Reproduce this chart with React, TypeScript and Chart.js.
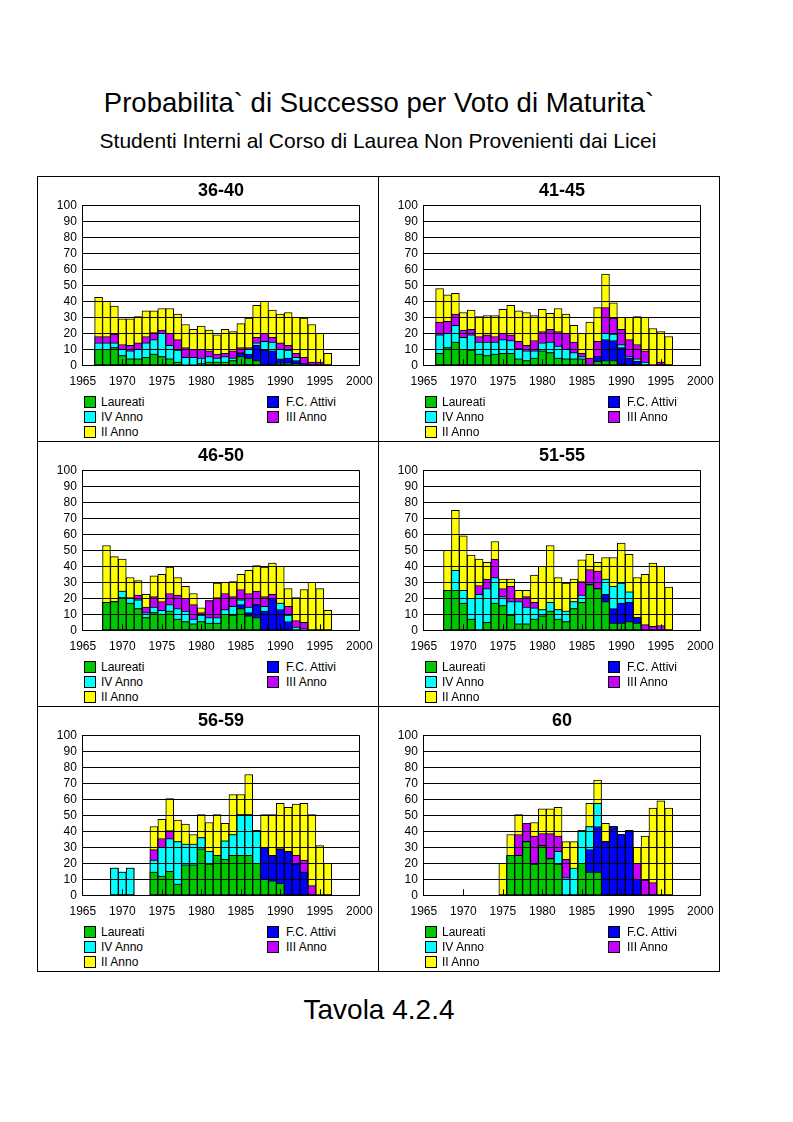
import React, { useEffect, useRef } from "react";
import { Chart, registerables } from "chart.js";

Chart.register(...registerables);

// ---------------- DATA ----------------
const YEARS = [
  1967, 1968, 1969, 1970, 1971, 1972, 1973, 1974, 1975, 1976,
  1977, 1978, 1979, 1980, 1981, 1982, 1983, 1984, 1985, 1986,
  1987, 1988, 1989, 1990, 1991, 1992, 1993, 1994, 1995, 1996,
];

const SERIES_NAMES = ["Laureati", "F.C. Attivi", "IV Anno", "III Anno", "II Anno"];
const SERIES_COLORS = ["#00C800", "#0000FF", "#00FFFF", "#C800FF", "#FFFF00"];

const PANEL_TITLES = ["36-40", "41-45", "46-50", "51-55", "56-59", "60"];

const MAIN_TITLE = "Probabilita` di Successo per Voto di Maturita`";
const SUB_TITLE = "Studenti Interni al Corso di Laurea Non Provenienti dai Licei";
const FOOTER = "Tavola 4.2.4";

// Cumulative top of each layer (percent), one value per year (null = no bar)
// Panel 36-40
const P1_LAUREATI = [10, 10, 11, 6, 4, 4, 5, 7, 5.5, 4, 2, 0.5, 0.5, 1, 2, 2, 2, 3, 5.5, 4.5, 3, 0, 0, 1.5, 1.5, 1, 0, 0, 0, 0];
const P1_FC = [10, 10, 11, 6, 4, 4, 5, 7, 5.5, 4, 2, 0.5, 0.5, 1, 2, 2, 2, 3, 7.5, 7, 12.5, 9.5, 9, 4, 4.5, 3, 1, 0, 0, 0];
const P1_IV = [14, 14, 14, 10, 9, 10, 14, 16, 20, 12.5, 9.5, 5, 5, 4.5, 5.5, 4.5, 5.5, 4.5, 8, 10, 14, 15, 14.5, 10, 9.5, 5, 1, 0, 0, 0];
const P1_III = [18, 18, 19.5, 13, 12.5, 14, 18, 20.5, 22, 20, 16, 11, 10, 10, 9, 7, 7.5, 9, 11, 11, 17.5, 20, 17.5, 14, 12.5, 7.5, 5, 2, 2, 0];
const P1_II = [42.5, 40, 37, 29, 29, 30.5, 34, 34, 35.5, 35.5, 32, 25.5, 22.5, 24.5, 22, 19, 22.5, 21, 26, 29.5, 37.5, 40, 34.5, 32, 33, 30, 29.5, 25.5, 20, 7.5];

// Panel 41-45
const P2_LAUREATI = [7.5, 11, 14.5, 10, 9.5, 7, 6, 7, 7.5, 7.5, 4, 3, 4.5, 9, 8, 4.5, 4, 4, 4, 0, 2.5, 3, 3, 0, 0, 0, 0, 0, 0, 0];
const P2_FC = [7.5, 11, 14.5, 10, 9.5, 7, 6, 7, 7.5, 7.5, 4, 3, 4.5, 9, 8, 4.5, 4, 4, 4, 0, 5.5, 16, 15.5, 11, 4.5, 2.5, 0, 0, 0, 0];
const P2_IV = [19, 20, 25, 17.5, 19, 14.5, 14.5, 14.5, 16, 15.5, 10.5, 9, 9, 14, 14.5, 12, 10, 8, 5.5, 0, 5.5, 20, 19.5, 13, 5.5, 4, 2, 0, 0, 0];
const P2_III = [27, 27.5, 32, 22, 22.5, 18, 19, 18, 20, 19, 15, 12.5, 15.5, 21, 22.5, 21, 20, 14.5, 7.5, 4.5, 15, 36, 29.5, 22.5, 16, 13, 9, 0.5, 2, 0];
const P2_II = [48, 44, 45, 33, 34.5, 30.5, 31, 31, 35, 37.5, 34, 33, 31, 35, 32.5, 35.5, 32, 25, 20, 27, 36, 57, 39, 30, 30, 30.5, 30, 23, 21, 18];

// Panel 46-50
const P3_LAUREATI = [null, 17.5, 18, 20.5, 17, 13.5, 8, 11, 10, 12, 7, 5.5, 4, 5.5, 4.5, 4.5, 10, 9.5, 13.5, 9, 8, 0, 0, 0, 0, 0, 0, 0, 0, 0];
const P3_FC = [null, 17.5, 18, 20.5, 17, 13.5, 8, 11, 10, 12, 7, 5.5, 4, 5.5, 4.5, 4.5, 10, 9.5, 16, 11, 16, 12, 20, 13, 5.5, 0, 0, 0, 0, 0];
const P3_IV = [null, 17.5, 18, 24.5, 20, 19, 11, 14.5, 12.5, 16, 13.5, 12, 7, 9.5, 8, 8, 13, 15, 19, 14.5, 16, 15, 20, 17, 9.5, 2, 1, 0, 0, 0];
const P3_III = [null, 17.5, 18, 24.5, 20.5, 22, 14.5, 21, 18, 23, 22, 20, 16, 11, 18.5, 20.5, 23, 21, 25.5, 23, 24.5, 21, 22.5, 17, 15, 6, 5, 0, 0, 0];
const P3_II = [null, 53, 46, 44.5, 33, 31, 22.5, 34, 35, 39.5, 33, 27.5, 23, 14, 18.5, 29.5, 30, 30.5, 35, 37.5, 40.5, 39.5, 42, 40, 26, 20.5, 25.5, 30, 26, 12.5];

// Panel 51-55
const P4_LAUREATI = [null, 25, 25, 17, 7, 0, 5, 17, 15.5, 9.5, 4, 4, 7, 9, 12, 7, 5.5, 13.5, 17.5, 28.5, 26, 18, 4.5, 4.5, 5.5, 4.5, 0, 0, 0, 0];
const P4_FC = [null, 25, 25, 17, 7, 0, 5, 17, 15.5, 9.5, 4, 4, 7, 9, 12, 7, 5.5, 13.5, 17.5, 28.5, 26, 22.5, 13.5, 17, 17.5, 8, 0, 0, 0, 0];
const P4_IV = [null, 25, 37.5, 25, 20, 22.5, 26, 33, 21, 18, 18, 14.5, 14, 13, 17.5, 13, 12, 18, 22, 28.5, 26, 32, 27.5, 29.5, 24, 8, 0, 0, 0, 0];
const P4_III = [null, 25, 37.5, 25, 20, 28, 32, 44.5, 26, 27.5, 20, 21, 17.5, 13, 17.5, 13, 12, 18, 30.5, 38, 37, 32, 27.5, 29.5, 24, 8, 3.5, 2.5, 3, 0];
const P4_II = [null, 50, 75, 59, 47, 44.5, 42.5, 55.5, 32, 32, 25, 25, 34.5, 40, 53, 33, 29.5, 32, 44, 47.5, 42.5, 45.5, 45.5, 54.5, 47.5, 33, 35, 42, 40, 27];

// Panel 56-59
const P5_LAUREATI = [null, null, 0, 0, 0, null, null, 14.5, 12, 15, 7, 19, 19, 29, 19.5, 25, 22.5, 25, 25, 25, 20, 10, 9, 7.5, 0, 0, 0, 0, 0, 0];
const P5_FC = [null, null, 0, 0, 0, null, null, 14.5, 12, 15, 7, 19, 19, 29, 19.5, 25, 22.5, 25, 25, 25, 20, 30, 25, 29, 27.5, 19.5, 14.5, 0, 0, 0];
const P5_IV = [null, null, 17, 14.5, 17, null, null, 22, 30, 35.5, 33.5, 32, 32, 36, 27.5, 25, 34, 38, 50.5, 50.5, 40.5, 30, 25, 29, 27.5, 19.5, 14.5, 0, 0, 0];
const P5_III = [null, null, 17, 14.5, 17, null, null, 28.5, 35.5, 40.5, 33.5, 32, 32, 36, 27.5, 25, 34, 38, 50.5, 50.5, 40.5, 30, 25, 29, 27.5, 25, 22, 6, 0, 0];
const P5_II = [null, null, 17, 14.5, 17, null, null, 43, 47.5, 60.5, 47, 44.5, 38, 50.5, 45.5, 50.5, 45, 63, 63, 75.5, 40.5, 50.5, 50.5, 57.5, 55, 57, 57.5, 50.5, 31, 20];

// Panel 60
const P6_LAUREATI = [null, null, null, null, null, null, null, null, 0, 25, 25, 33.5, 19.5, 31, 23, 19.5, 0, 0, 20, 14.5, 14.5, 0, 0, 0, 0, 0, 0, 0, 0, 0];
const P6_FC = [null, null, null, null, null, null, null, null, 0, 25, 25, 33.5, 19.5, 31, 23, 19.5, 0, 0, 20, 28.5, 43, 33.5, 43, 38, 40.5, 10, 0, 0, 0, 0];
const P6_IV = [null, null, null, null, null, null, null, null, 0, 25, 25, 33.5, 19.5, 31, 23, 27.5, 11, 17, 40.5, 43, 57.5, 33.5, 43, 38, 40.5, 10, 0, 0, 0, 0];
const P6_III = [null, null, null, null, null, null, null, null, 0, 25, 38, 45, 37, 38.5, 38.5, 37, 22.5, 17, 40.5, 43, 57.5, 33.5, 43, 38, 40.5, 20, 9.5, 8, 0, 0];
const P6_II = [null, null, null, null, null, null, null, null, 20, 38, 50.5, 45, 45.5, 54, 54, 55, 33.5, 33.5, 40.5, 57.5, 72, 45, 43, 38, 40.5, 30, 37, 54.5, 59, 54.5];

const PANELS = [
  [P1_LAUREATI, P1_FC, P1_IV, P1_III, P1_II],
  [P2_LAUREATI, P2_FC, P2_IV, P2_III, P2_II],
  [P3_LAUREATI, P3_FC, P3_IV, P3_III, P3_II],
  [P4_LAUREATI, P4_FC, P4_IV, P4_III, P4_II],
  [P5_LAUREATI, P5_FC, P5_IV, P5_III, P5_II],
  [P6_LAUREATI, P6_FC, P6_IV, P6_III, P6_II],
];

// ---------------- LAYOUT ----------------
const FONT = '"Liberation Sans", Arial, Helvetica, sans-serif';
const BOX_L = 37;
const BOX_T = 176;
const CELL_W = 341;
const CELL_H = 265;
const CANVAS_H = 215;
const PLOT_L = 45.8;
const PLOT_R = 322.3;
const PLOT_T = 29.3;
const PLOT_B = 189.3;

const innerTicks = {
  id: "innerTicks",
  afterDraw(chart: any) {
    const { ctx, chartArea, scales } = chart;
    const xs = scales.x;
    ctx.save();
    ctx.strokeStyle = "#000";
    ctx.lineWidth = 1;
    xs.ticks.forEach((t: any) => {
      if (t.value <= xs.min || t.value >= xs.max) return;
      const x = Math.round(xs.getPixelForValue(t.value)) + 0.5;
      ctx.beginPath();
      ctx.moveTo(x, chartArea.bottom);
      ctx.lineTo(x, chartArea.bottom - 6);
      ctx.stroke();
    });
    ctx.restore();
  },
};

function PanelChart({ series }: { series: (number | null)[][] }) {
  const ref = useRef<HTMLCanvasElement | null>(null);
  useEffect(() => {
    if (!ref.current) return;
    const datasets = series.map((vals, i) => ({
      label: SERIES_NAMES[i],
      data: YEARS.map((yr, k) => ({ x: yr, y: vals[k] })).filter(
        (p) => p.y !== null && (p.y as number) > 0
      ),
      backgroundColor: SERIES_COLORS[i],
      borderColor: "#000",
      borderWidth: 1,
      borderSkipped: false,
      grouped: false,
      barPercentage: 1,
      categoryPercentage: 1,
    }));
    const tickFont = { family: FONT, size: 12 };
    const chart = new Chart(ref.current, {
      type: "bar",
      data: { datasets: datasets as any },
      plugins: [innerTicks],
      options: {
        responsive: false,
        animation: false,
        layout: {
          padding: { left: 0, right: CELL_W - PLOT_R, top: PLOT_T, bottom: 0 },
        },
        plugins: {
          legend: { display: false },
          tooltip: { enabled: false },
          title: { display: false },
        },
        scales: {
          x: {
            type: "linear",
            min: 1965,
            max: 2000,
            offset: false,
            ticks: {
              stepSize: 5,
              autoSkip: false,
              maxRotation: 0,
              color: "#000",
              font: tickFont,
              padding: 9,
              callback: (v: any) => String(v),
            },
            grid: {
              offset: false,
              drawTicks: false,
              color: (c: any) =>
                c.tick && c.tick.value === 2000 ? "#000" : "rgba(0,0,0,0)",
            },
            border: { color: "#000", width: 1, z: 1 },
            afterFit: (axis: any) => {
              axis.height = CANVAS_H - PLOT_B;
              axis.paddingLeft = 0;
              axis.paddingRight = 0;
            },
          },
          y: {
            min: 0,
            max: 100,
            ticks: {
              stepSize: 10,
              autoSkip: false,
              color: "#000",
              font: tickFont,
              padding: 6,
            },
            grid: { color: "#000", drawTicks: false, z: 1 },
            border: { color: "#000", width: 1, z: 1 },
            afterFit: (axis: any) => {
              axis.width = PLOT_L;
              axis.paddingTop = 0;
              axis.paddingBottom = 0;
            },
          },
        },
      } as any,
    });
    return () => chart.destroy();
  }, [series]);
  return (
    <canvas
      ref={ref}
      width={CELL_W}
      height={CANVAS_H}
      style={{ width: CELL_W, height: CANVAS_H, display: "block" }}
    />
  );
}

const LEGEND_ROWS = [
  [0, 1],
  [2, 3],
  [4],
];

function Cell({ idx }: { idx: number }) {
  const col = idx % 2;
  const row = Math.floor(idx / 2);
  const left = BOX_L + col * CELL_W;
  const top = BOX_T + row * CELL_H;
  return (
    <div style={{ position: "absolute", left, top, width: CELL_W, height: CELL_H }}>
      <div style={{ position: "absolute", left: 0, top: 0 }}>
        <PanelChart series={PANELS[idx]} />
      </div>
      <div
        style={{
          position: "absolute",
          left: 0,
          width: 368,
          top: 4,
          textAlign: "center",
          fontWeight: "bold",
          fontSize: 18,
          lineHeight: "20px",
        }}
      >
        {PANEL_TITLES[idx]}
      </div>
      {LEGEND_ROWS.map((r, ri) =>
        r.map((si, ci) => (
          <React.Fragment key={`${ri}-${ci}`}>
            <div
              style={{
                position: "absolute",
                left: ci === 0 ? 47 : 230,
                top: 220 + ri * 15,
                width: 12,
                height: 12,
                boxSizing: "border-box",
                border: "1px solid #000",
                background: SERIES_COLORS[si],
              }}
            />
            <div
              style={{
                position: "absolute",
                left: ci === 0 ? 64 : 249,
                top: 219 + ri * 15,
                fontSize: 12,
                lineHeight: "14px",
                whiteSpace: "nowrap",
              }}
            >
              {SERIES_NAMES[si]}
            </div>
          </React.Fragment>
        ))
      )}
    </div>
  );
}

export default function App() {
  return (
    <div
      style={{
        position: "absolute",
        left: 0,
        top: 0,
        width: 793,
        height: 1122,
        background: "#fff",
        fontFamily: FONT,
        color: "#000",
      }}
    >
      <div
        style={{
          position: "absolute",
          left: 0,
          width: 758,
          top: 87,
          textAlign: "center",
          fontSize: 27.5,
          lineHeight: "32px",
          whiteSpace: "nowrap",
        }}
      >
        {MAIN_TITLE}
      </div>
      <div
        style={{
          position: "absolute",
          left: 0,
          width: 756,
          top: 129,
          textAlign: "center",
          fontSize: 21,
          lineHeight: "24px",
          whiteSpace: "nowrap",
        }}
      >
        {SUB_TITLE}
      </div>
      <div
        style={{
          position: "absolute",
          left: BOX_L,
          top: BOX_T,
          width: CELL_W * 2 + 1,
          height: CELL_H * 3 + 1,
          boxSizing: "border-box",
          border: "1px solid #000",
        }}
      />
      <div style={{ position: "absolute", left: BOX_L + CELL_W, top: BOX_T, width: 1, height: CELL_H * 3, background: "#000" }} />
      <div style={{ position: "absolute", left: BOX_L, top: BOX_T + CELL_H, width: CELL_W * 2, height: 1, background: "#000" }} />
      <div style={{ position: "absolute", left: BOX_L, top: BOX_T + CELL_H * 2, width: CELL_W * 2, height: 1, background: "#000" }} />
      {[0, 1, 2, 3, 4, 5].map((i) => (
        <Cell key={i} idx={i} />
      ))}
      <div
        style={{
          position: "absolute",
          left: 0,
          width: 758,
          top: 994,
          textAlign: "center",
          fontSize: 28,
          lineHeight: "32px",
        }}
      >
        {FOOTER}
      </div>
    </div>
  );
}
